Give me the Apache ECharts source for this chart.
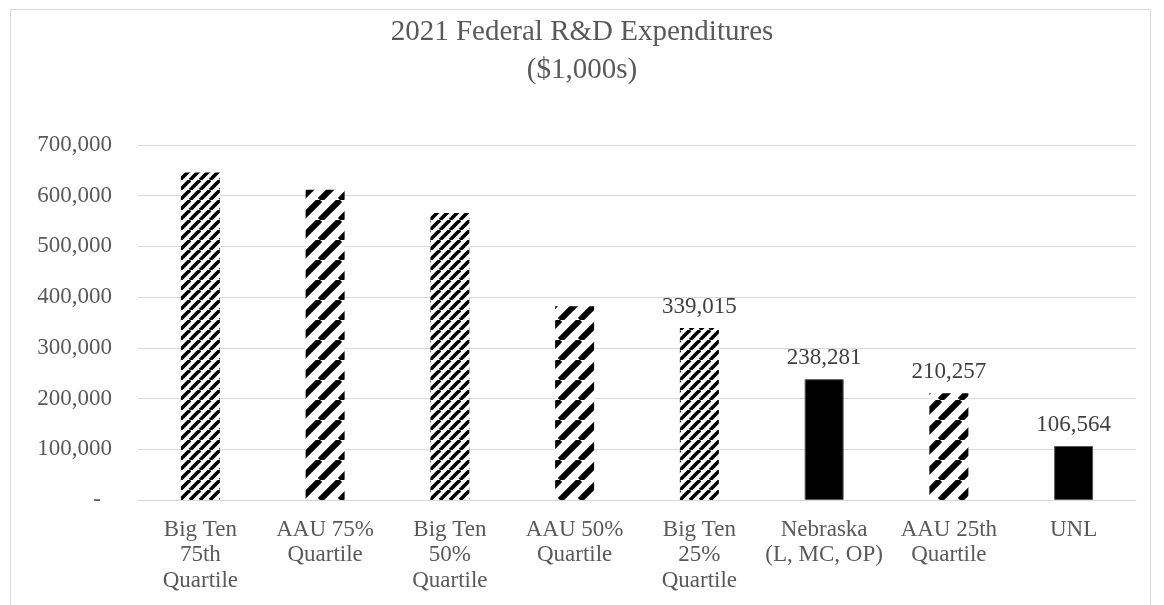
<!DOCTYPE html>
<html>
<head>
<meta charset="utf-8">
<script src="https://cdn.jsdelivr.net/npm/echarts@6/dist/echarts.min.js"></script>
<style>
html,body{margin:0;padding:0;background:#fff;}
#chart{width:1164px;height:605px;}
</style>
</head>
<body>
<div id="chart"></div>
<script>
const categories = [
  "Big Ten\n75th\nQuartile",
  "AAU 75%\nQuartile",
  "Big Ten\n50%\nQuartile",
  "AAU 50%\nQuartile",
  "Big Ten\n25%\nQuartile",
  "Nebraska\n(L, MC, OP)",
  "AAU 25th\nQuartile",
  "UNL"
];
const values = [646000, 612000, 566000, 382000, 339015, 238281, 210257, 106564];
const labelled = [false, false, false, false, true, true, true, true];
const yTicks = { min: 0, max: 700000, interval: 100000 };

// fill kinds (style only)
const fills = ["fine", "wide", "fine", "wide", "fine", "solid", "wide", "solid"];

function stripe(P, frac) {
  const c = document.createElement('canvas');
  c.width = P; c.height = P;
  const g = c.getContext('2d');
  g.fillStyle = '#fff';
  g.fillRect(0, 0, P, P);
  g.strokeStyle = '#000';
  g.lineWidth = frac * P / Math.SQRT2;
  for (const x0 of [-P, 0, P]) {
    g.beginPath();
    g.moveTo(x0, P);
    g.lineTo(x0 + P, 0);
    g.stroke();
  }
  return c;
}
const fineP = stripe(10, 0.5);
const wideP = stripe(20, 0.42);

const fmt = v => v.toLocaleString('en-US');
const serif = "'Liberation Serif', 'Times New Roman', serif";

const data = values.map((v, i) => {
  const f = fills[i];
  let itemStyle;
  if (f === 'solid') itemStyle = { color: '#000', borderColor: '#595959', borderWidth: 1 };
  else itemStyle = { color: { image: f === 'fine' ? fineP : wideP, repeat: 'repeat' } };
  return {
    value: v,
    itemStyle,
    label: { show: labelled[i] }
  };
});

const chart = echarts.init(document.getElementById('chart'), null, { renderer: 'canvas' });
chart.setOption({
  animation: false,
  backgroundColor: '#fff',
  title: {
    text: '2021 Federal R&D Expenditures\n($1,000s)',
    left: 'center',
    top: 8,
    textStyle: { fontFamily: serif, fontSize: 29, fontWeight: 'normal', color: '#595959', lineHeight: 38 }
  },
  graphic: [{
    type: 'rect', silent: true,
    shape: { x: 10.5, y: 9.5, width: 1140, height: 620 },
    style: { fill: 'none', stroke: '#d9d9d9', lineWidth: 1 }
  }],
  grid: { left: 138, right: 28, top: 145, bottom: 105, containLabel: false },
  xAxis: {
    type: 'category',
    data: categories,
    axisLine: { lineStyle: { color: '#d9d9d9', width: 1 } },
    axisTick: { show: false },
    axisLabel: {
      interval: 0, margin: 17,
      fontFamily: serif, fontSize: 23, color: '#595959', lineHeight: 25.5
    }
  },
  yAxis: {
    type: 'value',
    min: yTicks.min, max: yTicks.max, interval: yTicks.interval,
    axisLine: { show: false },
    axisTick: { show: false },
    splitLine: { lineStyle: { color: '#d9d9d9', width: 1 } },
    axisLabel: {
      margin: 26,
      fontFamily: serif, fontSize: 23, color: '#595959',
      formatter: v => v === 0 ? '{d|-}' : fmt(v),
      rich: { d: { fontFamily: serif, fontSize: 23, color: '#595959', padding: [0, 11, 0, 0] } }
    }
  },
  series: [{
    type: 'bar',
    data: data,
    barWidth: 39,
    label: {
      position: 'top', distance: 10,
      fontFamily: serif, fontSize: 23, color: '#404040',
      formatter: p => fmt(p.value)
    }
  }]
});
</script>
</body>
</html>
